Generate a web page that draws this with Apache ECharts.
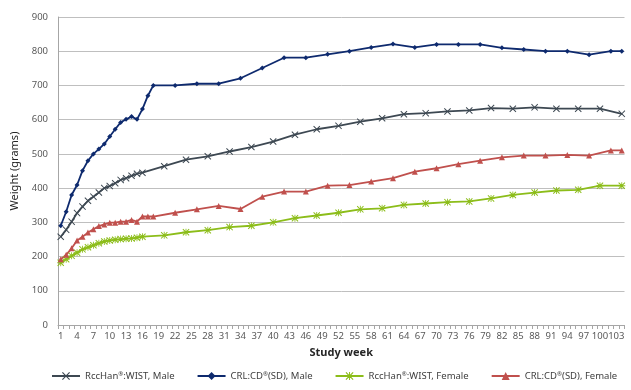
<!DOCTYPE html>
<html><head><meta charset="utf-8">
<script src="https://cdn.jsdelivr.net/npm/echarts@6/dist/echarts.min.js"></script>
<style>html,body{margin:0;padding:0;background:#fff}#c{width:631px;height:390px}</style>
</head><body><div id="c"></div>
<script>
// Study weeks (category axis 1..104)
const weeks = Array.from({length:104},(_,i)=>String(i+1));

const wistMaleWeeks = [1,2,3,4,5,6,7,8,9,10,11,12,13,14,15,16,20,24,28,32,36,40,44,48,52,56,60,64,68,72,76,80,84,88,92,96,100,104];
const wistMaleVals  = [258,278,302,327,346,363,375,387,400,406,414,424,429,436,442,445,464,483,493,507,520,536,556,572,582,594,604,616,619,624,627,634,632,636,632,632,632,617];

const sdMaleWeeks = [1,2,3,4,5,6,7,8,9,10,11,12,13,14,15,16,17,18,22,26,30,34,38,42,46,50,54,58,62,66,70,74,78,82,86,90,94,98,102,104];
const sdMaleVals  = [290,331,380,409,451,480,500,514,529,551,572,592,601,609,601,631,670,700,700,705,705,721,751,781,781,791,800,811,821,811,820,820,820,810,805,800,800,790,800,800];

const wistFemaleWeeks = [1,2,3,4,5,6,7,8,9,10,11,12,13,14,15,16,20,24,28,32,36,40,44,48,52,56,60,64,68,72,76,80,84,88,92,96,100,104];
const wistFemaleVals  = [182,192,202,211,221,227,233,239,244,247,249,251,252,253,255,258,262,271,277,286,290,300,312,320,328,338,341,351,355,359,361,370,380,387,393,395,407,407];

const sdFemaleWeeks = [1,2,3,4,5,6,7,8,9,10,11,12,13,14,15,16,17,18,22,26,30,34,38,42,46,50,54,58,62,66,70,74,78,82,86,90,94,98,102,104];
const sdFemaleVals  = [192,205,224,247,258,270,280,289,294,299,299,302,302,307,302,317,317,317,328,338,348,339,375,390,390,407,409,419,429,448,458,470,480,490,495,495,497,495,510,510];

const yTicks = {min:0, max:900, interval:100};

function pairs(ws, vs){ return ws.map((w,i)=>[w-1, vs[i]]); }

const X_PATH = 'path://M0,1L1,0L5,4L9,0L10,1L6,5L10,9L9,10L5,6L1,10L0,9L4,5Z';
const AST_PATH = 'path://M0,1L1,0L5,4L9,0L10,1L6,5L10,9L9,10L5,6L1,10L0,9L4,5Z M4.4,0L5.6,0L5.6,4.4L10,4.4L10,5.6L5.6,5.6L5.6,10L4.4,10L4.4,5.6L0,5.6L0,4.4L4.4,4.4Z';

const FONT = 'Noto Sans';
const chart = echarts.init(document.getElementById('c'), null, {renderer:'canvas'});
const rich = {a:{fontFamily:FONT,fontSize:9.5,color:'#404040'}, s:{fontFamily:FONT,fontSize:6,color:'#404040',verticalAlign:'top',padding:[0,0,4,0]}};
function mk(name, ws, vs, sym, size, col){
  return {name:name,type:'line',data:pairs(ws,vs),showAllSymbol:true,
    symbol:sym,symbolSize:size,color:col,lineStyle:{width:1.8,color:col},itemStyle:{color:col}};
}
chart.setOption({
  animation:false,
  backgroundColor:'#fff',
  grid:{left:58,right:6.5,top:17,bottom:65,containLabel:false},
  xAxis:{
    type:'category', data:weeks, boundaryGap:true,
    name:'Study week', nameLocation:'middle', nameGap:22,
    nameTextStyle:{fontFamily:FONT,fontSize:11,fontWeight:'bold',color:'#262626'},
    axisLine:{lineStyle:{color:'#a6a6a6',width:1}},
    axisTick:{show:true,interval:0,length:4,lineStyle:{color:'#a6a6a6'}},
    axisLabel:{interval:2,fontFamily:FONT,fontSize:9.5,color:'#595959',margin:6}
  },
  yAxis:{
    type:'value', min:yTicks.min, max:yTicks.max, interval:yTicks.interval,
    name:'Weight (grams)', nameLocation:'middle', nameGap:31, nameRotate:90,
    nameTextStyle:{fontFamily:FONT,fontSize:11,color:'#262626'},
    axisLine:{show:true,lineStyle:{color:'#a6a6a6'}},
    axisTick:{show:false},
    axisLabel:{fontFamily:FONT,fontSize:9.5,color:'#595959',margin:10},
    splitLine:{lineStyle:{color:'#bfbfbf',width:1}}
  },
  legend:{
    bottom:4, left:46, itemWidth:28, itemHeight:10, itemGap:22,
    textStyle:{fontFamily:FONT,fontSize:9.5,color:'#404040',rich:rich},
    formatter:function(n){
      const m = n.split('®');
      return '{a|'+m[0]+'}{s|®}{a|'+m[1]+'}';
    },
    data:['RccHan®:WIST, Male','CRL:CD®(SD), Male','RccHan®:WIST, Female','CRL:CD®(SD), Female']
  },
  series:[
    mk('RccHan®:WIST, Male', wistMaleWeeks, wistMaleVals, X_PATH, 7, '#3d4852'),
    mk('CRL:CD®(SD), Male', sdMaleWeeks, sdMaleVals, 'diamond', 5, '#0e2a6e'),
    mk('RccHan®:WIST, Female', wistFemaleWeeks, wistFemaleVals, AST_PATH, 7, '#8cbd1a'),
    mk('CRL:CD®(SD), Female', sdFemaleWeeks, sdFemaleVals, 'triangle', 6, '#c0504d')
  ]
});
</script></body></html>
